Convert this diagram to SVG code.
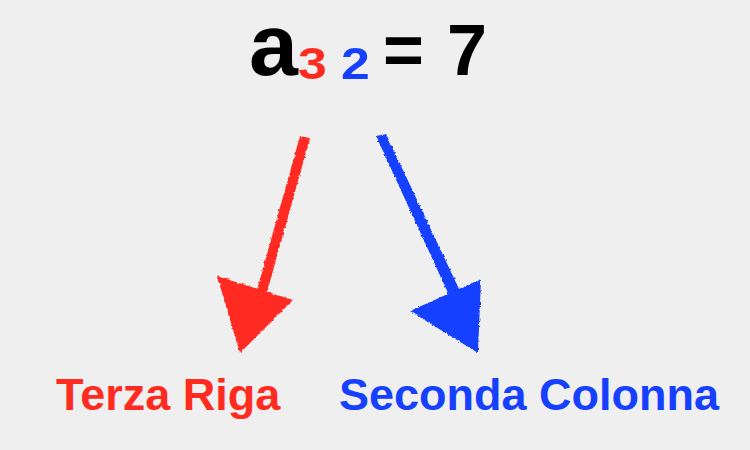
<svg xmlns="http://www.w3.org/2000/svg" width="750" height="450" viewBox="0 0 750 450">
<style>
text{font-family:"Liberation Sans",Arial,sans-serif;font-weight:bold}
.red{fill:#FF2B20}
.blue{fill:#1640FF}
.blk{fill:#000}
</style>
<defs>
<filter id="rough" x="-10%" y="-10%" width="120%" height="120%">
<feTurbulence type="fractalNoise" baseFrequency="0.35" numOctaves="2" seed="3" result="n"/>
<feDisplacementMap in="SourceGraphic" in2="n" scale="3" xChannelSelector="R" yChannelSelector="G"/>
</filter>
</defs>
<rect width="750" height="450" fill="#EFEFEF"/>
<g id="formula">
<text x="249" y="75" font-size="88" class="blk">a</text>
<text transform="translate(298,79) scale(1.15,1)" font-size="45" class="red">3</text>
<text transform="translate(341,79) scale(1.15,1)" font-size="45" class="blue">2</text>
<text x="383" y="74" font-size="70" class="blk">=</text>
<text x="447" y="75" font-size="72" class="blk">7</text>
</g>
<g id="connectors" filter="url(#rough)">
<g id="arrow-red" class="red">
<polygon points="300,136 310,138 267,292 257,290"/>
<polygon points="217,276 293,300 240,353"/>
</g>
<g id="arrow-blue" class="blue">
<polygon points="376,136 386,134 460,291 449,295"/>
<polygon points="410,311 481,279 478,353"/>
</g>
</g>
<g id="label-riga">
<text x="56" y="410" font-size="45" class="red">Terza Riga</text>
</g>
<g id="label-colonna">
<text x="339" y="410" font-size="45" class="blue">Seconda Colonna</text>
</g>
</svg>
